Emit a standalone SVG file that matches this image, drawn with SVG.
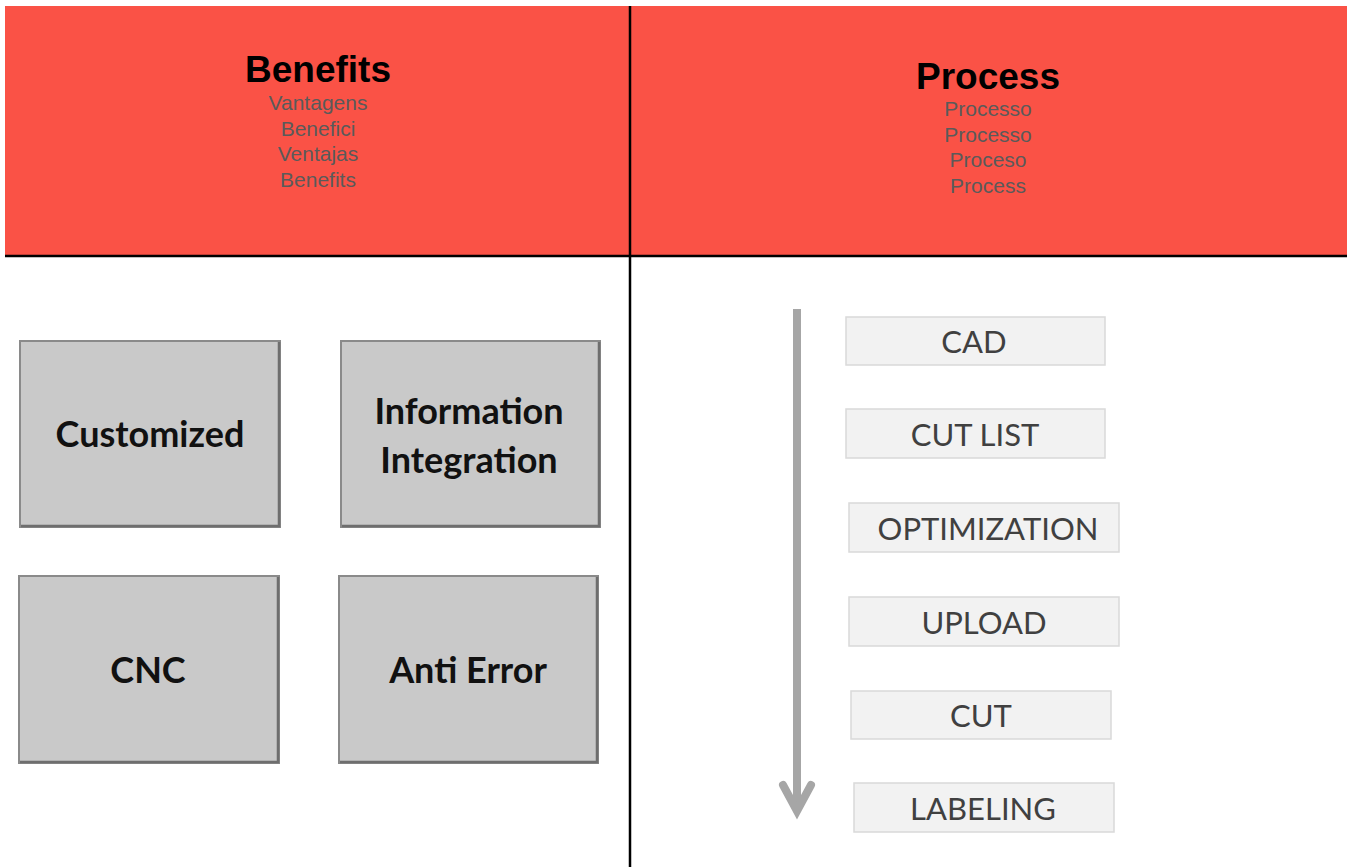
<svg xmlns="http://www.w3.org/2000/svg" width="1354" height="867" viewBox="0 0 1354 867">
<style>
.hdr{fill:#FA5246}
.title{font-family:"Liberation Sans",Arial,sans-serif;font-weight:bold;font-size:37px;fill:#000;text-anchor:middle}
.sub{font-family:"Liberation Sans",Arial,sans-serif;font-size:21px;fill:#5A5A5A;text-anchor:middle}
.grid{stroke:#000;stroke-width:2.5}
.bbox{fill:#C9C9C9;stroke:#8A8A8A;stroke-width:2}
.bshade{fill:none;stroke:#6E6E6E;stroke-width:2.5}
.btxt{font-family:Lato,"Open Sans",sans-serif;font-weight:bold;font-size:36px;fill:#111;text-anchor:middle}
.pbox{fill:#F2F2F2;stroke:#D9D9D9;stroke-width:1.5}
.ptxt{font-family:Lato,"Open Sans",sans-serif;font-size:31px;fill:#404040;text-anchor:middle}
.arrow{stroke:#A6A6A6;stroke-width:8;fill:none}
</style>
<rect width="1354" height="867" fill="#fff"/>
<g id="header-benefits">
<rect class="hdr" x="5" y="6" width="626" height="250"/>
<text class="title" x="318" y="82">Benefits</text>
<text class="sub" x="318" y="110">Vantagens</text>
<text class="sub" x="318" y="136">Benefici</text>
<text class="sub" x="318" y="161">Ventajas</text>
<text class="sub" x="318" y="187">Benefits</text>
</g>
<g id="header-process">
<rect class="hdr" x="631" y="6" width="716" height="250"/>
<text class="title" x="988" y="89">Process</text>
<text class="sub" x="988" y="116">Processo</text>
<text class="sub" x="988" y="142">Processo</text>
<text class="sub" x="988" y="167">Proceso</text>
<text class="sub" x="988" y="193">Process</text>
</g>
<g id="grid-lines">
<line class="grid" x1="5" y1="256" x2="1347" y2="256"/>
<line class="grid" x1="630" y1="6" x2="630" y2="867"/>
</g>
<g id="box-customized">
<rect class="bbox" x="20" y="341" width="260" height="186"/>
<polyline class="bshade" points="21,526 279,526 279,342"/>
<text class="btxt" x="150" y="447">Customized</text>
</g>
<g id="box-information-integration">
<rect class="bbox" x="341" y="341" width="259" height="186"/>
<polyline class="bshade" points="342,526 599,526 599,342"/>
<text class="btxt" x="469" y="424">Information</text>
<text class="btxt" x="469" y="473">Integration</text>
</g>
<g id="box-cnc">
<rect class="bbox" x="19" y="576" width="260" height="187"/>
<polyline class="bshade" points="20,762 278,762 278,577"/>
<text class="btxt" x="148" y="683">CNC</text>
</g>
<g id="box-anti-error">
<rect class="bbox" x="339" y="576" width="259" height="187"/>
<polyline class="bshade" points="340,762 597,762 597,577"/>
<text class="btxt" x="468" y="683">Anti Error</text>
</g>
<g id="step-cad">
<rect class="pbox" x="846" y="317" width="259" height="48"/>
<text class="ptxt" x="974" y="353">CAD</text>
</g>
<g id="step-cut-list">
<rect class="pbox" x="846" y="409" width="259" height="49"/>
<text class="ptxt" x="975" y="446">CUT LIST</text>
</g>
<g id="step-optimization">
<rect class="pbox" x="849" y="503" width="270" height="49"/>
<text class="ptxt" x="988" y="540">OPTIMIZATION</text>
</g>
<g id="step-upload">
<rect class="pbox" x="849" y="597" width="270" height="49"/>
<text class="ptxt" x="984" y="634">UPLOAD</text>
</g>
<g id="step-cut">
<rect class="pbox" x="851" y="691" width="260" height="48"/>
<text class="ptxt" x="981" y="727">CUT</text>
</g>
<g id="step-labeling">
<rect class="pbox" x="854" y="783" width="260" height="49"/>
<text class="ptxt" x="983" y="820">LABELING</text>
</g>
<g id="connectors">
<line class="arrow" x1="797" y1="309" x2="797" y2="810"/>
<polyline class="arrow" points="783,785 797,811 811,785" stroke-linejoin="miter" stroke-linecap="round"/>
</g>
</svg>
